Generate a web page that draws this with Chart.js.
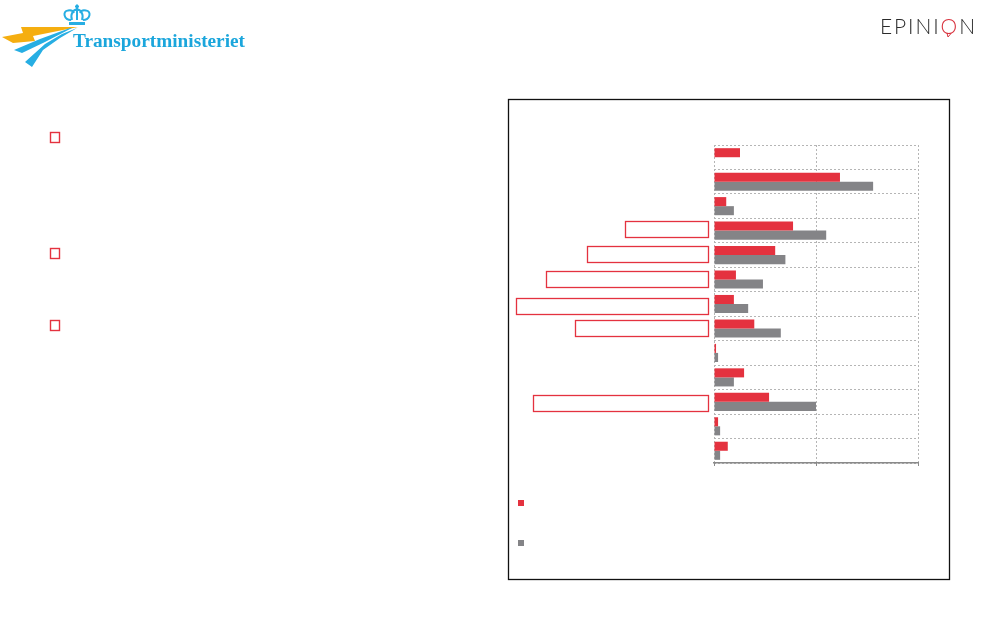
<!DOCTYPE html>
<html>
<head>
<meta charset="utf-8">
<style>
html,body{margin:0;padding:0;background:#fff;width:1000px;height:625px;overflow:hidden}
#wrap{position:relative;width:1000px;height:625px}
#logos{position:absolute;left:0;top:0}
canvas{position:absolute;left:0;top:0}
</style>
<script src="https://cdn.jsdelivr.net/npm/chart.js@4"></script>
</head>
<body>
<div id="wrap">
<canvas id="c" width="1000" height="625"></canvas>
<svg id="logos" width="1000" height="625" xmlns="http://www.w3.org/2000/svg">
  <polygon points="2,37 23,33 21,27 78,27 33,36 35,41 13,43" fill="#f5ae10"/>
  <polygon points="14,50 40,39 70,28 72,28 45,42 22,53" fill="#27aee3"/>
  <polygon points="25,62 45,44 62,34 77,28 60,38 43,50 32,67" fill="#27aee3"/>
  <g fill="none" stroke="#27aee3">
    <path stroke-width="2" d="M71,20 C64,20 62,11 68,10.5 C71,9.5 73,11 74,13 M83,20 C90,20 92,11 86,10.5 C83,9.5 81,11 80,13"/>
    <path stroke-width="2" d="M77,9 C73,10 70,14 72,20 M77,9 C81,10 84,14 82,20 M77,9 V20"/>
    <path stroke-width="3" d="M69,23.5 H85"/>
    <path stroke-width="2" d="M77,4.5 V9 M75,6.5 H79"/>
  </g>
  <text x="73" y="47" font-family="Liberation Serif" font-weight="bold" font-size="18" fill="#1ba6dc" textLength="172" lengthAdjust="spacingAndGlyphs">Transportministeriet</text>
  <text x="880" y="33.5" font-family="Lato" font-size="21" fill="#2b2b2b" textLength="95" lengthAdjust="spacing" style="font-weight:300">EPINI<tspan fill="#d8333f">O</tspan>N</text>
  <path d="M947,33 L948,37 L951,33.5" fill="none" stroke="#d8333f" stroke-width="1"/>
</svg>
</div>
<script>
const categories = ["1","2","3","4","5","6","7","8","9","10","11","12","13"];
const redValues  = [5.1,24.7,2.4,15.5,12,4.3,3.9,7.9,0.4,5.9,10.8,0.8,2.7];
const grayValues = [null,31.2,3.9,22,14,9.6,6.7,13.1,0.8,3.9,20,1.2,1.2];
const xTicks = [0,20,40];
const boxRows = [3,4,5,6,7,10];
const boxWidths = [83,121,162,192,133,175];
const boxOffsets = [-1.5,-1,-0.5,1.5,-0.5,1];
const bulletRows = [137.5,253.5,325.5];

const RED = "#e4323f", GRAY = "#848487";

const decor = {
  id: "decor",
  beforeDraw(chart){
    const g = chart.ctx;
    g.save();
    g.strokeStyle = "#111"; g.lineWidth = 1.3;
    g.strokeRect(508.5,99.5,441,480);
    g.strokeStyle = RED; g.lineWidth = 1.4;
    bulletRows.forEach(y => g.strokeRect(50.5,y-5,9,10));
    g.fillStyle = RED; g.fillRect(518,500,6,6);
    g.fillStyle = GRAY; g.fillRect(518,540,6,6);
    g.restore();
  },
  afterDraw(chart){
    const g = chart.ctx, y = chart.scales.y, x = chart.scales.x, b = chart.chartArea.bottom;
    g.save();
    g.strokeStyle = RED; g.lineWidth = 1.3;
    boxRows.forEach((r,i) => {
      const cy = y.getPixelForValue(r) + boxOffsets[i];
      g.strokeRect(708.5 - boxWidths[i], Math.round(cy-8)+0.5, boxWidths[i], 16);
    });
    g.strokeStyle = "#8a8a8a"; g.lineWidth = 1;
    xTicks.forEach(v => {
      const p = Math.round(x.getPixelForValue(v)) + 0.5;
      g.beginPath(); g.moveTo(p,b-1); g.lineTo(p,b+3); g.stroke();
    });
    g.restore();
  }
};

new Chart(document.getElementById("c"), {
  type: "bar",
  data: {
    labels: categories,
    datasets: [
      {label:"A", data: redValues, backgroundColor: RED},
      {label:"B", data: grayValues, backgroundColor: GRAY}
    ]
  },
  options: {
    indexAxis: "y",
    responsive: false,
    animation: false,
    devicePixelRatio: 1,
    layout: {padding: {left: 714, right: 82, top: 145, bottom: 162}},
    plugins: {legend: {display:false}, tooltip: {enabled:false}},
    datasets: {bar: {barPercentage: 1, categoryPercentage: 0.74}},
    scales: {
      x: {
        min: xTicks[0], max: xTicks[2],
        afterBuildTicks(s){ s.ticks = xTicks.map(v => ({value:v})); },
        ticks: {display:false},
        border: {display:true, color:"#8a8a8a", width:1.5, dash:[2,2]},
        grid: {color:"#b5b5b5", lineWidth:1, drawTicks:false}
      },
      y: {
        ticks: {display:false},
        border: {display:false, dash:[2,2]},
        grid: {color:"#b5b5b5", lineWidth:1, drawTicks:false, offset:true}
      }
    }
  },
  plugins: [decor]
});
</script>
</body>
</html>
